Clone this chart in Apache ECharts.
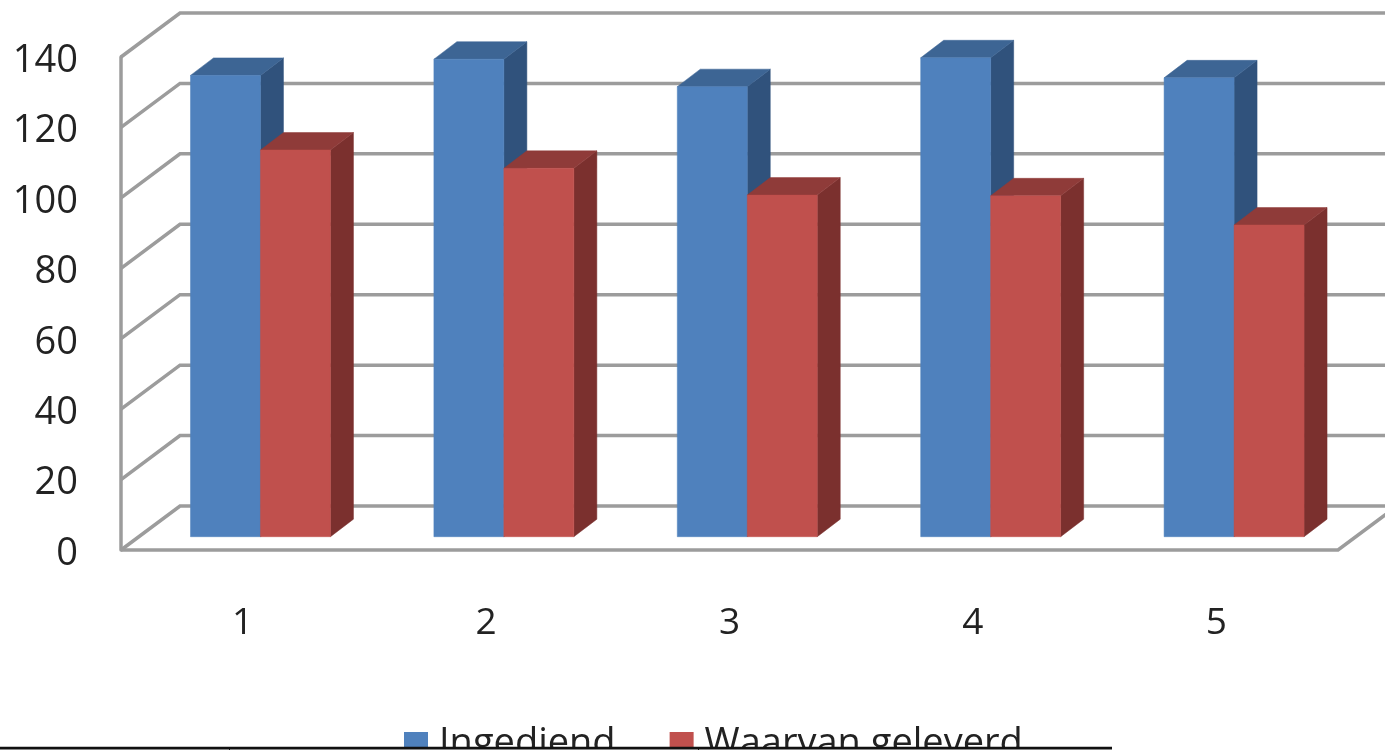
<!DOCTYPE html>
<html><head><meta charset="utf-8">
<style>html,body{margin:0;padding:0;background:#fff;overflow:hidden}#c{width:1385px;height:750px}</style>
<script src="https://cdn.jsdelivr.net/npm/echarts@6/dist/echarts.min.js"></script>
</head><body><div id="c"></div>
<script>
var categories = ['1', '2', '3', '4', '5'];
var ingediend = [131, 135.6, 127.8, 136, 130.3];
var geleverd = [109.8, 104.6, 97, 96.8, 88.5];
var ticks = [0, 20, 40, 60, 80, 100, 120, 140];
var seriesNames = ['Ingediend', 'Waarvan geleverd'];

var WALL = {dx: 59, dy: -44};      // wall depth, px
var BAR = {dx: 23, dy: -17.5, floor: -13.3, shift: 0.073, width: 0.2875}; // bar depth/band fractions
var GREY = '#9c9c9c';

function poly(points, fill) {
  return {type: 'polygon', shape: {points: points}, style: {fill: fill, stroke: fill, lineWidth: 0.5}};
}
function barRenderer(side, front, top, dark) {
  return function (params, api) {
    var cat = api.value(0), val = api.value(1);
    var band = api.size([1, 0])[0];
    var c = api.coord([cat, 0]);
    var t = api.coord([cat, val]);
    var w = band * BAR.width;
    var mid = c[0] + band * BAR.shift;
    var x0 = side < 0 ? mid - w : mid, x1 = x0 + w;
    var yb = c[1] + BAR.floor, yt = t[1] + BAR.floor;
    var d = BAR.dx, e = BAR.dy;
    return {type: 'group', children: [
      poly([[x1, yb], [x1 + d, yb + e], [x1 + d, yt + e], [x1, yt]], dark),
      poly([[x0, yt], [x1, yt], [x1 + d, yt + e], [x0 + d, yt + e]], top),
      poly([[x0, yb], [x1, yb], [x1, yt], [x0, yt]], front)
    ]};
  };
}
function gridRenderer(params, api) {
  var v = api.value(0);
  var p = api.coord([0, v]);
  var sz = api.size([1, 0])[0];
  var x0 = p[0] - sz / 2, y = p[1];
  var xr = x0 + sz * categories.length;
  var kids = [{
    type: 'polyline',
    shape: {points: [[x0, y], [x0 + WALL.dx, y + WALL.dy], [xr + WALL.dx, y + WALL.dy]]},
    style: {stroke: GREY, lineWidth: 3.5, fill: null}
  }];
  if (v === 0) {
    kids.push({type: 'polyline',
      shape: {points: [[x0, y], [xr, y], [xr + WALL.dx, y + WALL.dy]]},
      style: {stroke: GREY, lineWidth: 3.5, fill: null}});
  }
  return {type: 'group', children: kids};
}

var chart = echarts.init(document.getElementById('c'));
chart.setOption({
  animation: false,
  backgroundColor: '#fff',
  color: ['#4F81BD', '#C0504D'],
  grid: {left: 121, top: 57, width: 1217, height: 493, containLabel: false},
  legend: {
    data: seriesNames, left: 404, top: 725, padding: 0, itemWidth: 24, itemHeight: 24, itemGap: 54,
    icon: 'rect', selectedMode: false,
    textStyle: {fontFamily: 'Open Sans', fontSize: 38, lineHeight: 24, color: '#222', padding: [4, 0, 0, 6]}
  },
  xAxis: {
    type: 'category', data: categories,
    axisLine: {show: false}, axisTick: {show: false}, splitLine: {show: false},
    axisLabel: {fontFamily: 'Open Sans', fontSize: 37, color: '#222', margin: 55}
  },
  yAxis: {
    type: 'value', min: 0, max: 140, interval: 20,
    axisLine: {show: true, lineStyle: {color: GREY, width: 3.5}},
    axisTick: {show: false}, splitLine: {show: false},
    axisLabel: {fontFamily: 'Open Sans', fontSize: 38, color: '#222', margin: 43, verticalAlign: 'top', lineHeight: 8}
  },
  series: [
    {type: 'custom', name: 'grid', silent: true, clip: false, z: 1, coordinateSystem: 'cartesian2d',
     renderItem: gridRenderer, encode: {y: 0}, data: ticks.map(function (t) { return [t]; })},
    {type: 'custom', name: seriesNames[0], clip: false, z: 2,
     renderItem: barRenderer(-1, '#4F81BD', '#3D6594', '#30527C'),
     itemStyle: {color: '#4F81BD'}, encode: {x: 0, y: 1},
     data: ingediend.map(function (v, i) { return [i, v]; })},
    {type: 'custom', name: seriesNames[1], clip: false, z: 3,
     renderItem: barRenderer(1, '#C0504D', '#8F3B39', '#7B302E'),
     itemStyle: {color: '#C0504D'}, encode: {x: 0, y: 1},
     data: geleverd.map(function (v, i) { return [i, v]; })}
  ],
  graphic: [
    {type: 'rect', z: 100, shape: {x: 0, y: 748, width: 1385, height: 2}, style: {fill: '#fff'}},
    {type: 'rect', z: 101, shape: {x: 0, y: 746.8, width: 1112, height: 2.8}, style: {fill: '#111'}},
    {type: 'rect', z: 101, shape: {x: 229, y: 748, width: 1, height: 2}, style: {fill: '#111'}},
    {type: 'rect', z: 101, shape: {x: 698, y: 748, width: 1, height: 2}, style: {fill: '#111'}}
  ]
});
</script></body></html>
